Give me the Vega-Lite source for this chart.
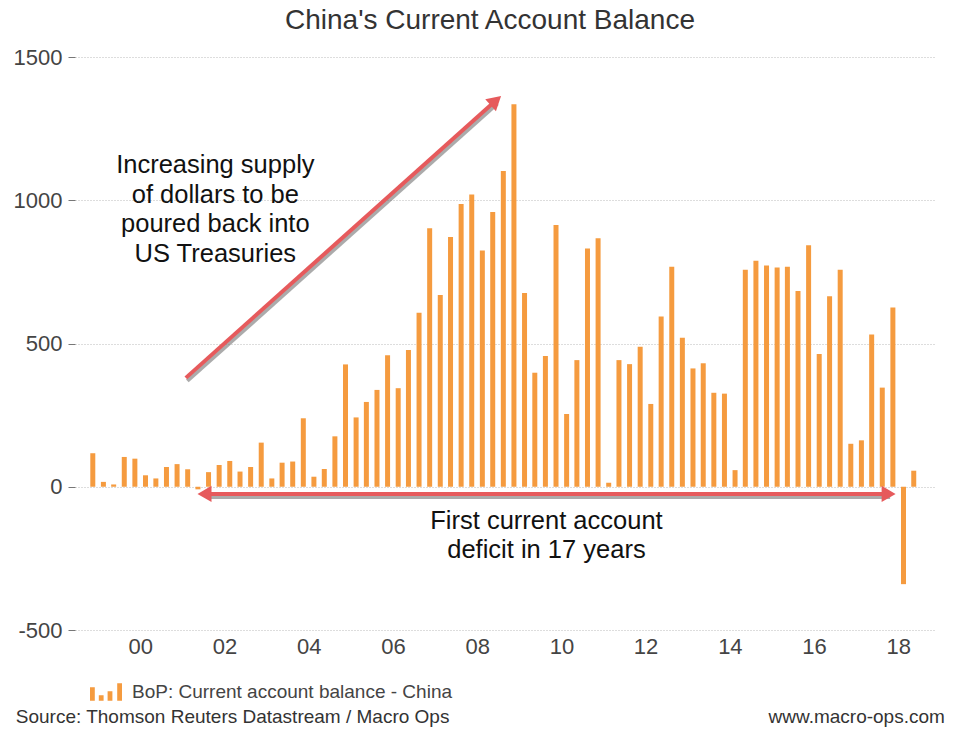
{
  "$schema": "https://vega.github.io/schema/vega-lite/v6.json",
  "width": 860,
  "height": 573,
  "autosize": {"type": "none"},
  "padding": {"left": 75, "top": 57, "right": 19, "bottom": 99},
  "background": "white",
  "title": {
    "text": "China's Current Account Balance",
    "font": "Liberation Sans",
    "fontSize": 28,
    "fontWeight": "normal",
    "color": "#333333",
    "anchor": "middle",
    "frame": "group",
    "dx": -15,
    "offset": 11
  },
  "datasets": {
    "bars": [
      {"date": "1998-11-15", "value": 117},
      {"date": "1999-02-15", "value": 17},
      {"date": "1999-05-15", "value": 8},
      {"date": "1999-08-15", "value": 104},
      {"date": "1999-11-15", "value": 98},
      {"date": "2000-02-15", "value": 40},
      {"date": "2000-05-15", "value": 29},
      {"date": "2000-08-15", "value": 69},
      {"date": "2000-11-15", "value": 79},
      {"date": "2001-02-15", "value": 61},
      {"date": "2001-05-15", "value": -9},
      {"date": "2001-08-15", "value": 51},
      {"date": "2001-11-15", "value": 76},
      {"date": "2002-02-15", "value": 90},
      {"date": "2002-05-15", "value": 53},
      {"date": "2002-08-15", "value": 69},
      {"date": "2002-11-15", "value": 154},
      {"date": "2003-02-15", "value": 29},
      {"date": "2003-05-15", "value": 84},
      {"date": "2003-08-15", "value": 88},
      {"date": "2003-11-15", "value": 239},
      {"date": "2004-02-15", "value": 35},
      {"date": "2004-05-15", "value": 62},
      {"date": "2004-08-15", "value": 176},
      {"date": "2004-11-15", "value": 427},
      {"date": "2005-02-15", "value": 242},
      {"date": "2005-05-15", "value": 296},
      {"date": "2005-08-15", "value": 338},
      {"date": "2005-11-15", "value": 459},
      {"date": "2006-02-15", "value": 344},
      {"date": "2006-05-15", "value": 477},
      {"date": "2006-08-15", "value": 607},
      {"date": "2006-11-15", "value": 902},
      {"date": "2007-02-15", "value": 669},
      {"date": "2007-05-15", "value": 872},
      {"date": "2007-08-15", "value": 987},
      {"date": "2007-11-15", "value": 1020},
      {"date": "2008-02-15", "value": 825},
      {"date": "2008-05-15", "value": 959},
      {"date": "2008-08-15", "value": 1102},
      {"date": "2008-11-15", "value": 1335},
      {"date": "2009-02-15", "value": 676},
      {"date": "2009-05-15", "value": 398},
      {"date": "2009-08-15", "value": 456},
      {"date": "2009-11-15", "value": 914},
      {"date": "2010-02-15", "value": 254},
      {"date": "2010-05-15", "value": 442},
      {"date": "2010-08-15", "value": 832},
      {"date": "2010-11-15", "value": 867},
      {"date": "2011-02-15", "value": 14},
      {"date": "2011-05-15", "value": 442},
      {"date": "2011-08-15", "value": 428},
      {"date": "2011-11-15", "value": 489},
      {"date": "2012-02-15", "value": 289},
      {"date": "2012-05-15", "value": 594},
      {"date": "2012-08-15", "value": 768},
      {"date": "2012-11-15", "value": 520},
      {"date": "2013-02-15", "value": 413},
      {"date": "2013-05-15", "value": 431},
      {"date": "2013-08-15", "value": 328},
      {"date": "2013-11-15", "value": 325},
      {"date": "2014-02-15", "value": 58},
      {"date": "2014-05-15", "value": 757},
      {"date": "2014-08-15", "value": 789},
      {"date": "2014-11-15", "value": 772},
      {"date": "2015-02-15", "value": 765},
      {"date": "2015-05-15", "value": 768},
      {"date": "2015-08-15", "value": 683},
      {"date": "2015-11-15", "value": 843},
      {"date": "2016-02-15", "value": 463},
      {"date": "2016-05-15", "value": 665},
      {"date": "2016-08-15", "value": 757},
      {"date": "2016-11-15", "value": 150},
      {"date": "2017-02-15", "value": 162},
      {"date": "2017-05-15", "value": 531},
      {"date": "2017-08-15", "value": 346},
      {"date": "2017-11-15", "value": 626},
      {"date": "2018-02-15", "value": -340},
      {"date": "2018-05-15", "value": 56}
    ],
    "arrows": [
      {"arrow": "up", "date": "2001-01-30", "value": 380, "date2": "2008-06-11", "value2": 1348},
      {"arrow": "span", "date": "2001-07-11", "value": -25, "date2": "2017-10-09", "value2": -25}
    ],
    "heads": [
      {"head": "up", "date": "2008-06-11", "value": 1348},
      {"head": "left", "date": "2001-07-11", "value": -25},
      {"head": "right", "date": "2017-10-09", "value": -25}
    ],
    "notes": [
      {"text": "Increasing supply", "date": "2001-10-13", "value": 1123},
      {"text": "of dollars to be", "date": "2001-10-13", "value": 1020},
      {"text": "poured back into", "date": "2001-10-13", "value": 917},
      {"text": "US Treasuries", "date": "2001-10-13", "value": 812},
      {"text": "First current account", "date": "2009-08-24", "value": -120},
      {"text": "deficit in 17 years", "date": "2009-08-24", "value": -221}
    ],
    "footer": [
      {"side": "left", "text": "Source: Thomson Reuters Datastream / Macro Ops", "date": "1997-01-16", "value": -804},
      {"side": "right", "text": "www.macro-ops.com", "date": "2019-02-09", "value": -804}
    ]
  },
  "encoding": {
    "x": {
      "field": "date",
      "type": "temporal",
      "scale": {
        "type": "utc",
        "domain": [
          {"year": 1998, "month": 7, "date": 27, "utc": true},
          {"year": 2018, "month": 10, "date": 3, "utc": true}
        ]
      },
      "axis": {
        "title": null,
        "values": [
          {"year": 2000, "month": 1, "date": 1, "utc": true},
          {"year": 2002, "month": 1, "date": 1, "utc": true},
          {"year": 2004, "month": 1, "date": 1, "utc": true},
          {"year": 2006, "month": 1, "date": 1, "utc": true},
          {"year": 2008, "month": 1, "date": 1, "utc": true},
          {"year": 2010, "month": 1, "date": 1, "utc": true},
          {"year": 2012, "month": 1, "date": 1, "utc": true},
          {"year": 2014, "month": 1, "date": 1, "utc": true},
          {"year": 2016, "month": 1, "date": 1, "utc": true},
          {"year": 2018, "month": 1, "date": 1, "utc": true}
        ],
        "labelExpr": "utcFormat(datum.value, '%y')",
        "grid": false,
        "ticks": false,
        "domain": false,
        "labelPadding": 6,
        "labelFontSize": 22,
        "labelFont": "Liberation Sans",
        "labelColor": "#444444"
      }
    },
    "y": {
      "field": "value",
      "type": "quantitative",
      "scale": {"domain": [-500, 1500], "nice": false, "zero": false},
      "axis": {
        "title": null,
        "values": [-500, 0, 500, 1000, 1500],
        "labelExpr": "'' + datum.value",
        "grid": true,
        "gridColor": "#bbbbbb",
        "gridDash": [1, 2],
        "gridWidth": 1,
        "domain": false,
        "ticks": true,
        "tickSize": 7,
        "tickColor": "#777777",
        "labelPadding": 6,
        "labelFontSize": 22,
        "labelFont": "Liberation Sans",
        "labelColor": "#444444"
      }
    }
  },
  "layer": [
    {
      "data": {"name": "bars"},
      "mark": {"type": "bar", "size": 5},
      "encoding": {
        "color": {
          "datum": "BoP: Current account balance - China",
          "scale": {"range": ["#f59b3f"]},
          "legend": {
            "orient": "none",
            "legendX": 15,
            "legendY": 619,
            "title": null,
            "symbolType": "M-1,0.55L-1,-0.3L-0.7,-0.3L-0.7,0.55Z M-0.45,0.55L-0.45,0.2L-0.15,0.2L-0.15,0.55Z M0.1,0.55L0.1,-0.05L0.4,-0.05L0.4,0.55Z M0.7,0.55L0.7,-0.55L1,-0.55L1,0.55Z",
            "symbolSize": 1024,
            "symbolStrokeWidth": 0,
            "labelFont": "Liberation Sans",
            "labelFontSize": 19,
            "labelLimit": 0,
            "labelColor": "#444444",
            "labelOffset": 10
          }
        }
      }
    },
    {
      "data": {"name": "arrows"},
      "mark": {"type": "rule", "color": "#666666", "opacity": 0.55, "strokeWidth": 4, "xOffset": 1.5, "yOffset": 3, "x2Offset": 1.5, "y2Offset": 3},
      "encoding": {
        "x2": {"field": "date2"},
        "y2": {"field": "value2"}
      }
    },
    {
      "data": {"name": "arrows"},
      "mark": {"type": "rule", "color": "#e65a5c", "strokeWidth": 4},
      "encoding": {
        "x2": {"field": "date2"},
        "y2": {"field": "value2"}
      }
    },
    {
      "data": {"name": "heads"},
      "transform": [{"filter": "datum.head === 'up'"}],
      "mark": {"type": "point", "shape": "triangle-up", "angle": 48.5, "filled": true, "color": "#e65a5c", "opacity": 1, "size": 260}
    },
    {
      "data": {"name": "heads"},
      "transform": [{"filter": "datum.head === 'left'"}],
      "mark": {"type": "point", "shape": "triangle-left", "filled": true, "color": "#e65a5c", "opacity": 1, "size": 260}
    },
    {
      "data": {"name": "heads"},
      "transform": [{"filter": "datum.head === 'right'"}],
      "mark": {"type": "point", "shape": "triangle-right", "filled": true, "color": "#e65a5c", "opacity": 1, "size": 260}
    },
    {
      "data": {"name": "notes"},
      "mark": {"type": "text", "font": "Liberation Sans", "fontSize": 25.5, "color": "#111111", "align": "center", "baseline": "middle"},
      "encoding": {"text": {"field": "text"}}
    },
    {
      "data": {"name": "footer"},
      "transform": [{"filter": "datum.side === 'left'"}],
      "mark": {"type": "text", "font": "Liberation Sans", "fontSize": 19, "color": "#333333", "align": "left", "baseline": "middle"},
      "encoding": {"text": {"field": "text"}}
    },
    {
      "data": {"name": "footer"},
      "transform": [{"filter": "datum.side === 'right'"}],
      "mark": {"type": "text", "font": "Liberation Sans", "fontSize": 19, "color": "#333333", "align": "right", "baseline": "middle"},
      "encoding": {"text": {"field": "text"}}
    }
  ],
  "config": {
    "view": {"stroke": null}
  }
}
